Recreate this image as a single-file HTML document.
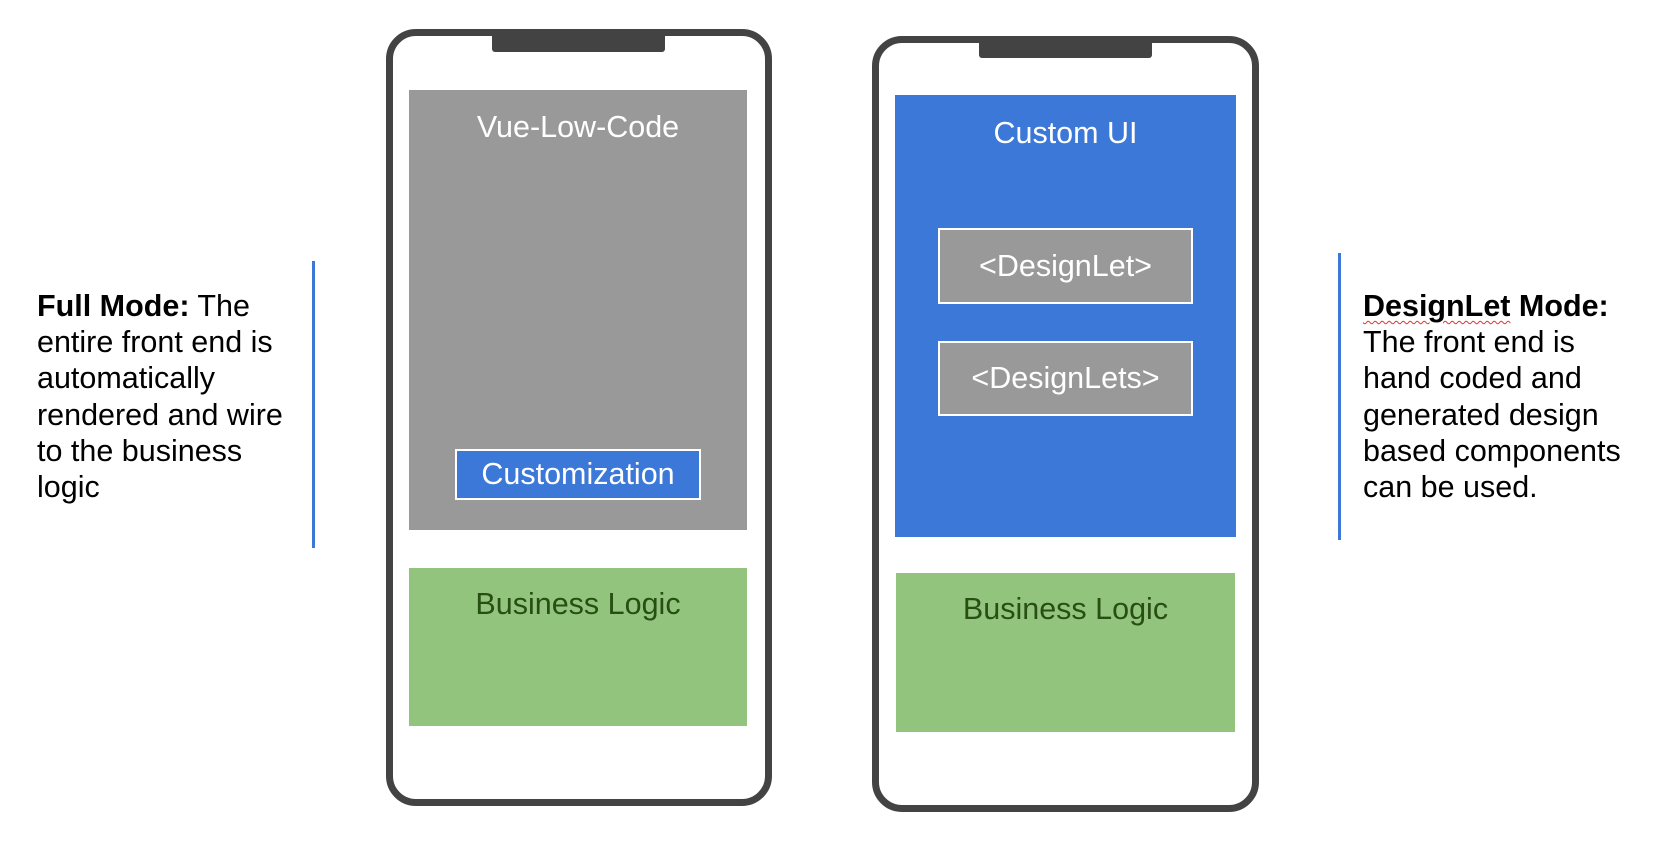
<!DOCTYPE html>
<html><head><meta charset="utf-8"><style>
body{margin:0;width:1653px;height:851px;background:#fff;position:relative;overflow:hidden;font-family:"Liberation Sans",Arial,sans-serif}
div{position:absolute;box-sizing:border-box}
.phone{border:7px solid #434343;border-radius:30px;background:#fff}
.notch{background:#434343;border-radius:0 0 3px 3px}
.lbl{width:100%;text-align:center;font-size:30.5px;line-height:32px;white-space:nowrap}
.txt{font-size:30.5px;line-height:36.2px;color:#000;white-space:nowrap}
</style></head><body>
<div class="phone" style="left:386px;top:29px;width:386px;height:777px"></div>
<div class="notch" style="left:492px;top:35px;width:173px;height:17px"></div>
<div style="left:409px;top:90px;width:338px;height:440px;background:#999"><div class="lbl" style="top:21px;color:#fff">Vue-Low-Code</div></div>
<div style="left:455px;top:449px;width:246px;height:51px;background:#3c78d8;border:2px solid #fff"><div class="lbl" style="top:7px;color:#fff">Customization</div></div>
<div style="left:409px;top:568px;width:338px;height:158px;background:#93c47d"><div class="lbl" style="top:20px;color:#274e13">Business Logic</div></div>

<div class="phone" style="left:872px;top:36px;width:387px;height:776px"></div>
<div class="notch" style="left:979px;top:40px;width:173px;height:18px"></div>
<div style="left:895px;top:95px;width:341px;height:442px;background:#3c78d8"><div class="lbl" style="top:22px;color:#fff">Custom UI</div></div>
<div style="left:938px;top:228px;width:255px;height:76px;background:#999;border:2px solid #fff"><div class="lbl" style="top:20px;color:#fff">&lt;DesignLet&gt;</div></div>
<div style="left:938px;top:341px;width:255px;height:75px;background:#999;border:2px solid #fff"><div class="lbl" style="top:19px;color:#fff">&lt;DesignLets&gt;</div></div>
<div style="left:896px;top:573px;width:339px;height:159px;background:#93c47d"><div class="lbl" style="top:20px;color:#274e13">Business Logic</div></div>

<div style="left:312px;top:261px;width:3px;height:287px;background:#3c78d8"></div>
<div style="left:1338px;top:253px;width:3px;height:287px;background:#3c78d8"></div>

<div class="txt" style="left:37px;top:288px;width:280px"><b>Full Mode:</b> The<br>entire front end is<br>automatically<br>rendered and wire<br>to the business<br>logic</div>
<div class="txt" style="left:1363px;top:288px;width:290px"><b style="text-decoration:underline wavy #d33;text-decoration-thickness:1px;text-underline-offset:4px">DesignLet</b><b> Mode:</b><br>The front end is<br>hand coded and<br>generated design<br>based components<br>can be used.</div>
</body></html>
